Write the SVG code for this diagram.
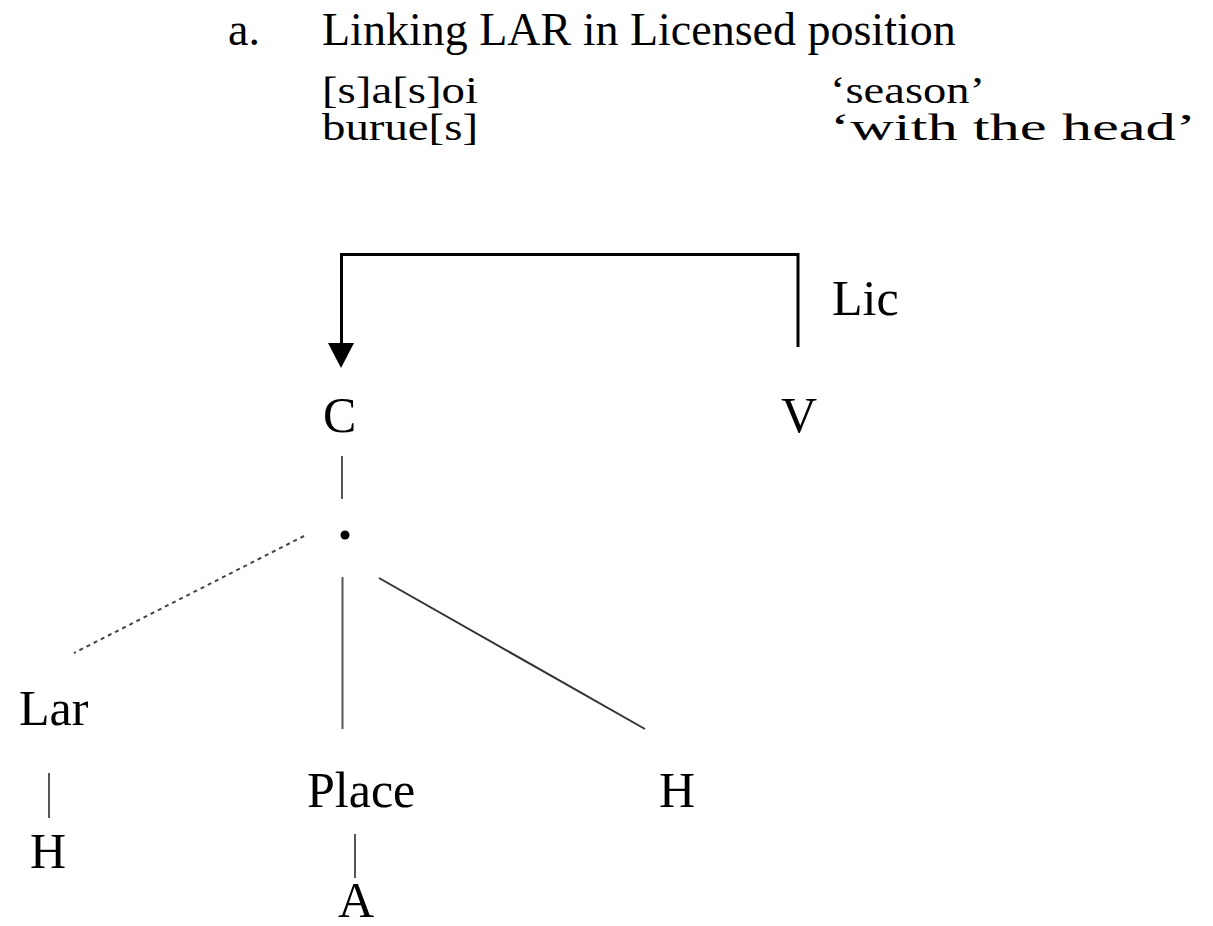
<svg xmlns="http://www.w3.org/2000/svg" width="1213" height="926" viewBox="0 0 1213 926">
  <style>
    text { font-family: "Liberation Serif", "Times New Roman", serif; fill: #000; }
    .head { font-size: 46px; }
    .ex { font-size: 37px; }
    .node { font-size: 50px; }
    .bracket { fill: none; stroke: #000; stroke-width: 3; }
    .assoc { fill: none; stroke: #555; stroke-width: 2; }
    .diag { fill: none; stroke: #333; stroke-width: 2; }
    .dotted { fill: none; stroke: #444; stroke-width: 2; stroke-dasharray: 4 4; }
  </style>

  <!-- heading and examples -->
  <g id="heading">
    <text class="head" x="228" y="45">a.</text>
    <text class="head" x="322" y="45">Linking LAR in Licensed position</text>
  </g>
  <g id="examples">
    <text class="ex" x="322" y="103" textLength="156" lengthAdjust="spacingAndGlyphs">[s]a[s]oi</text>
    <text class="ex" x="322" y="140" textLength="156" lengthAdjust="spacingAndGlyphs">burue[s]</text>
    <text class="ex" x="830" y="103" textLength="155" lengthAdjust="spacingAndGlyphs">‘season’</text>
    <text class="ex" x="830" y="140" textLength="366" lengthAdjust="spacingAndGlyphs">‘with the head’</text>
  </g>

  <!-- connectors -->
  <g id="connectors">
    <!-- licensing bracket from V to C, ending in a filled arrowhead -->
    <path class="bracket" d="M798,347 V254.5 H341.5 V343"/>
    <path d="M328,343 L354,343 L341,368 Z" fill="#000"/>
    <line class="assoc" x1="342" y1="456" x2="342" y2="499"/>
    <line class="dotted" x1="304" y1="536" x2="74" y2="653"/>
    <line class="assoc" x1="342.5" y1="577" x2="342.5" y2="729"/>
    <line class="diag" x1="379" y1="578" x2="645" y2="729"/>
    <line class="assoc" x1="49" y1="773" x2="49" y2="818"/>
    <line class="assoc" x1="355" y1="834" x2="355" y2="878"/>
  </g>

  <!-- nodes -->
  <g id="node-lic"><text class="node" x="832" y="315">Lic</text></g>
  <g id="node-c"><text class="node" x="323" y="432">C</text></g>
  <g id="node-v"><text class="node" x="781" y="432">V</text></g>
  <g id="node-root"><circle cx="345" cy="535" r="4.5" fill="#000"/></g>
  <g id="node-lar"><text class="node" x="19" y="725">Lar</text></g>
  <g id="node-h-lar"><text class="node" x="30" y="868">H</text></g>
  <g id="node-place"><text class="node" x="307" y="807">Place</text></g>
  <g id="node-a"><text class="node" x="338" y="917">A</text></g>
  <g id="node-h"><text class="node" x="659" y="807">H</text></g>
</svg>
